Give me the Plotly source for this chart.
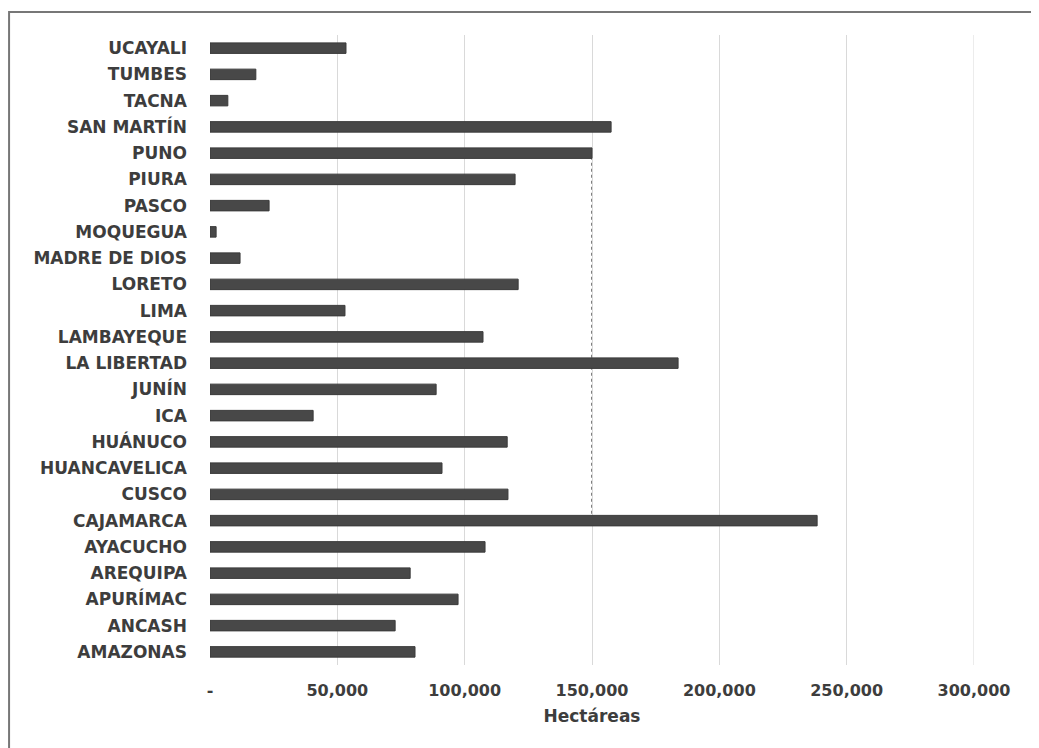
import plotly.graph_objects as go

regions = ["AMAZONAS", "ANCASH", "APURÍMAC", "AREQUIPA", "AYACUCHO", "CAJAMARCA",
           "CUSCO", "HUANCAVELICA", "HUÁNUCO", "ICA", "JUNÍN", "LA LIBERTAD",
           "LAMBAYEQUE", "LIMA", "LORETO", "MADRE DE DIOS", "MOQUEGUA", "PASCO",
           "PIURA", "PUNO", "SAN MARTÍN", "TACNA", "TUMBES", "UCAYALI"]
hectareas = [80500, 72700, 97400, 78600, 108000, 238400,
             117000, 91100, 116700, 40500, 88800, 183800,
             107200, 53000, 121000, 11800, 2400, 23200,
             119800, 150000, 157500, 7000, 18000, 53400]
tick_values = [0, 50000, 100000, 150000, 200000, 250000, 300000]
tick_labels = ["-", "50,000", "100,000", "150,000", "200,000", "250,000", "300,000"]

font_fam = "'DejaVu Sans', sans-serif"
txt_col = "#3d3d3d"

fig = go.Figure(go.Bar(
    x=hectareas, y=regions, orientation="h",
    marker=dict(color="#484848", line=dict(color="#3a3a3a", width=1)),
))

fig.update_layout(
    width=1039, height=748,
    margin=dict(l=202, r=73, t=27, b=91),
    paper_bgcolor="white", plot_bgcolor="white",
    bargap=0.6,
    showlegend=False,
    font=dict(family=font_fam, color=txt_col),
    xaxis=dict(
        range=[0, 300000], tickvals=tick_values, ticktext=tick_labels,
        showgrid=True, gridcolor="#d9d9d9", gridwidth=1,
        zeroline=False, showline=False,
        tickfont=dict(size=16, color=txt_col, weight="bold"),
        ticklabelstandoff=14,
        title=dict(text="Hectáreas", font=dict(size=17, color=txt_col, weight="bold"), standoff=11),
    ),
    yaxis=dict(
        categoryorder="array", categoryarray=regions,
        showgrid=False, zeroline=False, showline=False,
        tickfont=dict(size=17, color=txt_col, weight="bold"),
        ticklabelstandoff=22,
    ),
    shapes=[
        dict(type="rect", xref="paper", yref="paper",
             x0=-0.263, x1=1.15, y0=-0.2, y1=1.0365,
             line=dict(color="#777777", width=2), fillcolor="rgba(0,0,0,0)", layer="below"),
        dict(type="line", xref="x", yref="paper",
             x0=tick_values[-1], x1=tick_values[-1], y0=0, y1=1,
             line=dict(color="#d9d9d9", width=1), layer="below"),
        dict(type="line", xref="x", yref="paper",
             x0=150000, x1=150000, y0=0.24, y1=0.82,
             line=dict(color="#555555", width=1.5, dash="dot"), layer="below"),
    ],
)

fig.write_html("out.html")
